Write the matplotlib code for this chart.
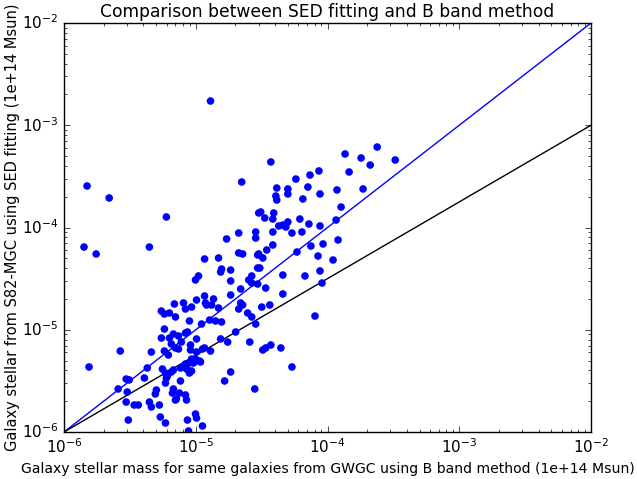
import numpy as np
import matplotlib
matplotlib.use("Agg")
import matplotlib.pyplot as plt

# log10 of stellar mass (1e+14 Msun): B band (GWGC) vs SED fitting (S82-MGC)
log_mass_b = [
    -5.825, -5.657, -5.223, -5.848, -5.756, -5.352, -4.651, -4.888, -4.522, -4.674,
    -4.545, -4.545, -4.766, -4.933, -4.827, -4.674, -4.644, -4.530, -4.804, -4.811,
    -4.735, -4.979, -5.002, -4.735, -4.575, -4.598, -4.530, -4.659, -4.530, -4.735,
    -4.933, -4.994, -4.865, -4.926, -4.918, -4.880, -5.162, -5.093, -5.032, -5.078,
    -5.261, -4.659, -4.644, -4.827, -4.674, -5.810, -5.573, -5.337, -5.589, -5.528,
    -5.505, -5.520, -5.528, -5.467, -5.436, -5.512, -5.390, -5.368, -5.299, -5.307,
    -5.352, -5.337, -5.276, -5.269, -5.230, -5.238, -5.200, -5.154, -5.238, -5.261,
    -5.200, -5.170, -5.131, -5.078, -5.063, -5.238, -5.185, -5.154, -5.131, -5.109,
    -5.040, -4.994, -4.994, -4.933, -4.888, -4.956, -4.895, -4.850, -4.804, -4.811,
    -4.758, -4.697, -4.590, -4.606, -4.575, -4.545, -5.253, -5.230, -5.223, -5.230,
    -5.185, -5.170, -5.116, -5.170, -5.177, -5.154, -5.124, -5.078, -5.070, -5.116,
    -5.078, -5.070, -5.048, -5.032, -5.048, -5.017, -5.002, -4.964, -5.063, -5.002,
    -4.994, -4.949, -5.055, -4.781, -4.735, -4.552, -4.430, -3.867, -3.623, -3.745,
    -3.676, -3.486, -3.836, -4.133, -4.065, -4.240, -4.149, -4.385, -4.301, -4.301,
    -4.057, -3.928, -3.730, -4.392, -4.385, -4.187, -3.897, -4.507, -4.408, -4.476,
    -4.415, -4.210, -3.935, -4.370, -4.339, -4.301, -4.316, -4.141, -4.057, -4.415,
    -4.270, -4.194, -3.920, -4.126, -4.034, -4.415, -4.461, -4.232, -4.522, -4.491,
    -4.072, -3.958, -4.514, -4.057, -4.339, -4.171, -4.575, -4.469, -4.042, -4.339,
    -4.499, -4.438, -4.095, -4.491, -4.469, -4.430, -4.354, -4.270, -5.048, -5.208,
    -5.040, -4.949, -5.215, -5.086, -5.032, -4.971, -5.147,
]
log_mass_sed = [
    -3.594, -3.711, -3.897, -4.191, -4.259, -4.191, -3.555, -2.763, -3.858, -4.054,
    -4.044, -4.103, -4.112, -4.308, -4.298, -4.249, -4.259, -4.269, -4.406, -4.435,
    -4.416, -4.474, -4.513, -4.523, -4.474, -4.513, -4.396, -4.601, -4.553, -4.660,
    -4.670, -4.709, -4.699, -4.738, -4.758, -4.758, -4.748, -4.738, -4.778, -4.797,
    -4.817, -4.738, -4.758, -4.787, -4.797, -5.364, -5.208, -5.218, -5.579, -5.482,
    -5.491, -5.609, -5.707, -5.736, -5.736, -5.883, -5.472, -5.374, -5.589, -5.628,
    -5.707, -5.755, -5.736, -5.853, -5.912, -4.846, -4.836, -4.875, -4.993, -5.081,
    -5.081, -5.042, -5.061, -5.032, -5.022, -5.208, -5.139, -5.178, -5.188, -5.120,
    -5.149, -5.090, -5.218, -5.178, -5.208, -4.944, -4.905, -4.914, -4.924, -5.090,
    -5.120, -5.022, -5.120, -4.836, -4.875, -4.944, -5.384, -5.423, -5.472, -5.521,
    -5.413, -5.394, -5.501, -5.579, -5.619, -5.687, -5.619, -5.638, -5.687, -5.374,
    -5.335, -5.384, -5.423, -5.403, -5.325, -5.325, -5.286, -5.315, -5.883, -5.824,
    -5.863, -5.941, -5.990, -5.501, -5.413, -5.579, -3.359, -3.281, -3.213, -3.320,
    -3.389, -3.340, -3.457, -3.487, -3.447, -3.526, -3.604, -3.614, -3.623, -3.672,
    -3.672, -3.633, -3.623, -3.692, -3.731, -3.721, -3.800, -3.848, -3.858, -3.907,
    -3.917, -3.917, -3.927, -3.985, -3.976, -3.946, -3.995, -3.966, -3.985, -4.044,
    -4.054, -4.044, -4.122, -4.181, -4.161, -4.171, -4.220, -4.240, -4.259, -4.298,
    -4.279, -4.318, -4.396, -4.425, -4.465, -4.474, -4.543, -4.592, -4.543, -4.650,
    -4.778, -4.758, -4.866, -5.198, -5.178, -5.149, -5.178, -5.364, -4.914, -5.247,
    -5.198, -5.188, -5.452, -5.355, -5.286, -5.306, -5.677,
]

mass_b = 10 ** np.array(log_mass_b)
mass_sed = 10 ** np.array(log_mass_sed)

# reference lines: one-to-one and y = 10^-1.5 * x^0.75
line_x = np.array([1e-6, 1e-2])
one_to_one = line_x
power_law = 10 ** -1.5 * line_x ** 0.75

plt.style.use('classic')
fig = plt.figure(figsize=(6.37, 4.79), dpi=100, facecolor='white')
ax = fig.add_axes([64 / 637, (479 - 432) / 479, 527 / 637, 409 / 479])

ax.scatter(mass_b, mass_sed, s=30, color='blue', edgecolors='none', zorder=3)
ax.plot(line_x, one_to_one, color='blue', lw=1)
ax.plot(line_x, power_law, color='black', lw=1)

ax.set_xscale('log')
ax.set_yscale('log')
ax.set_xlim(1e-6, 1e-2)
ax.set_ylim(1e-6, 1e-2)

ax.set_title('Comparison between SED fitting and B band method', fontsize=12.3, pad=4)
ax.set_xlabel('Galaxy stellar mass for same galaxies from GWGC using B band method (1e+14 Msun)',
              fontsize=10.1, labelpad=4)
ax.set_ylabel('Galaxy stellar from S82-MGC using SED fitting (1e+14 Msun)', fontsize=10.5, labelpad=1)
ax.tick_params(labelsize=11)

fig.savefig('out.png', dpi=100, facecolor='white')
